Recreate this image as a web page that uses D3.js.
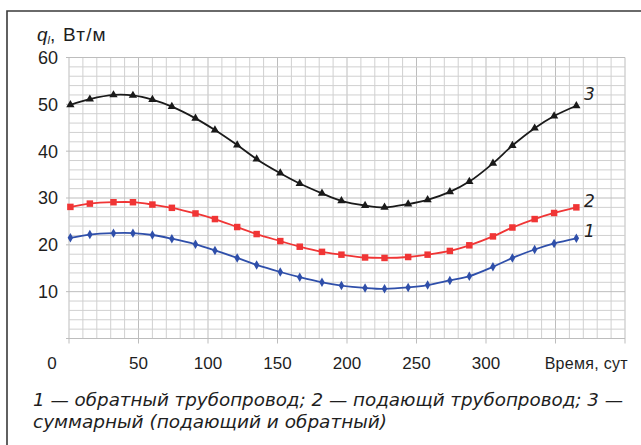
<!DOCTYPE html>
<html><head><meta charset="utf-8">
<script src="https://cdn.jsdelivr.net/npm/d3@7/dist/d3.min.js"></script>
<style>html,body{margin:0;padding:0;background:#fff;}svg{display:block;}</style>
</head><body>
<script>
// Data (days of year: 1st and 15th of each month, plus Dec 31)
const days = [1,15,32,46,60,74,91,105,121,135,152,166,182,196,213,227,244,258,274,288,305,319,335,349,365];
const series1 = [21.5,22.2,22.5,22.5,22.1,21.3,20.1,18.8,17.2,15.7,14.2,13.1,12.0,11.3,10.8,10.6,10.9,11.4,12.4,13.3,15.3,17.2,19.0,20.3,21.4]; // обратный
const series2 = [28.1,28.8,29.1,29.1,28.6,27.9,26.7,25.5,23.8,22.3,20.8,19.6,18.5,17.9,17.3,17.2,17.4,17.9,18.7,19.9,21.8,23.7,25.5,26.8,28.0]; // подающий
const series3 = [49.9,51.1,52.0,51.9,51.0,49.5,47.0,44.5,41.3,38.3,35.3,33.1,31.0,29.4,28.4,28.0,28.7,29.6,31.3,33.5,37.4,41.2,44.9,47.5,49.7]; // суммарный
const xTickLabels = [0,50,100,150,200,250,300];
const yTickLabels = [10,20,30,40,50,60];
const seriesNames = ["1","2","3"];
const yTitle = "Вт/м";
const xTitle = "Время, сут";
const caption1 = "1 — обратный трубопровод; 2 — подающй трубопровод; 3 —";
const caption2 = "суммарный (подающий и обратный)";

const W = 641, H = 445;
const svg = d3.select("body").append("svg").attr("width", W).attr("height", H);

const x = d3.scaleLinear().domain([0, 400]).range([69, 625]);
const y = d3.scaleLinear().domain([0, 60]).range([338.5, 57.5]);

// frame
svg.append("path").attr("d", `M7,${H} L7,11 L${W},11`).attr("fill", "none")
  .attr("stroke", "#3a3a3a").attr("stroke-width", 1.6);

// grid
const g = svg.append("g");
g.selectAll("line.v").data(d3.range(0, 401, 10)).enter().append("line")
  .attr("x1", d => x(d)).attr("x2", d => x(d))
  .attr("y1", y(60)).attr("y2", d => d % 50 === 0 ? y(0) + 5 : y(0))
  .attr("stroke", d => d % 50 === 0 ? "#bdbdbd" : "#d0d0d0").attr("stroke-width", 1);
g.selectAll("line.h").data(d3.range(0, 61, 2)).enter().append("line")
  .attr("y1", d => y(d)).attr("y2", d => y(d))
  .attr("x1", d => d % 10 === 0 ? x(0) - 3 : x(0)).attr("x2", x(400))
  .attr("stroke", d => d % 10 === 0 ? "#bdbdbd" : "#d0d0d0").attr("stroke-width", 1);

// y tick labels
svg.selectAll("text.yt").data(yTickLabels).enter().append("text")
  .attr("x", 58).attr("y", d => y(d)).attr("dy", "0.36em")
  .attr("text-anchor", "end").attr("font-family", "Liberation Sans, Arial, sans-serif")
  .attr("font-size", 18).attr("fill", "#1e1e1e").text(d => d);

// x tick labels
svg.selectAll("text.xt").data(xTickLabels).enter().append("text")
  .attr("x", d => d === 0 ? x(d) - 17 : x(d)).attr("y", 369)
  .attr("text-anchor", "middle").attr("font-family", "Liberation Sans, Arial, sans-serif")
  .attr("font-size", 17).attr("fill", "#1e1e1e").text(d => d);
svg.append("text").attr("x", 628).attr("y", 369).attr("text-anchor", "end")
  .attr("font-family", "Liberation Sans, Arial, sans-serif").attr("font-size", 16)
  .attr("fill", "#1e1e1e").attr("letter-spacing", 0.3).text(xTitle);

// y title
const yt = svg.append("text").attr("x", 37).attr("y", 41)
  .attr("font-family", "Liberation Sans, Arial, sans-serif").attr("font-size", 19).attr("fill", "#1e1e1e");
yt.append("tspan").attr("font-style", "italic").text("q");
yt.append("tspan").attr("font-style", "italic").attr("font-size", 11).attr("dy", 3).text("l");
yt.append("tspan").attr("dy", -3).attr("letter-spacing", 1.2).text(", " + yTitle);

// series
const seriesData = [
  {vals: series1, color: "#2f4faa", sym: d3.symbolDiamond, size: 26, label: seriesNames[0], ly: 237},
  {vals: series2, color: "#f03535", sym: d3.symbolSquare, size: 42, label: seriesNames[1], ly: 207},
  {vals: series3, color: "#1a1a1a", sym: d3.symbolTriangle, size: 30, label: seriesNames[2], ly: 100}
];
const line = d3.line().x((d, i) => x(days[i])).y(d => y(d)).curve(d3.curveCatmullRom.alpha(0.5));
seriesData.forEach(s => {
  svg.append("path").attr("d", line(s.vals)).attr("fill", "none")
    .attr("stroke", s.color).attr("stroke-width", 1.8);
  svg.selectAll(null).data(s.vals).enter().append("path")
    .attr("d", d3.symbol(s.sym, s.size))
    .attr("transform", (d, i) => `translate(${x(days[i])},${y(d)})`)
    .attr("fill", s.color);
  svg.append("text").attr("x", 584).attr("y", s.ly)
    .attr("font-family", "DejaVu Sans, sans-serif").attr("font-style", "italic")
    .attr("font-size", 17).attr("fill", "#222").text(s.label);
});

// caption
svg.append("text").attr("x", 33).attr("y", 406)
  .attr("font-family", "DejaVu Sans, sans-serif").attr("font-style", "italic")
  .attr("font-size", 17).attr("fill", "#1e1e1e")
  .attr("textLength", 590).attr("lengthAdjust", "spacingAndGlyphs").text(caption1);
svg.append("text").attr("x", 33).attr("y", 428)
  .attr("font-family", "DejaVu Sans, sans-serif").attr("font-style", "italic")
  .attr("font-size", 17).attr("fill", "#1e1e1e")
  .attr("textLength", 354).attr("lengthAdjust", "spacingAndGlyphs").text(caption2);
</script>
</body></html>
